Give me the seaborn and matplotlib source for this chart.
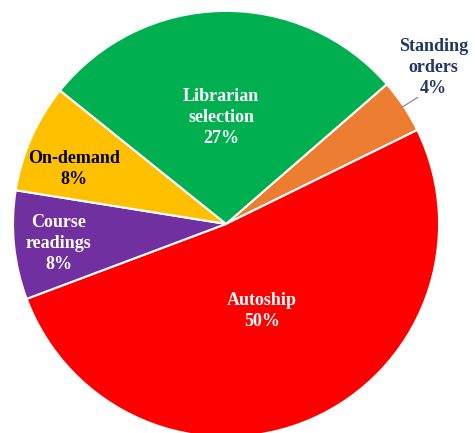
import numpy as np
import matplotlib
matplotlib.use("Agg")
import matplotlib.pyplot as plt
import seaborn as sns

# data (labels show these as percentages)
categories = ["Standing\norders", "Autoship", "Course\nreadings", "On-demand", "Librarian\nselection"]
values = [4, 50, 8, 8, 27]
colors = ["#ED7D31", "#FF0000", "#7030A0", "#FFC000", "#00B050"]
text_colors = ["#1F3864", "white", "white", "black", "white"]
label_r = [1.22, 0.44, 0.79, 0.76, 0.5]
label_dang = [3.5, -1, 1, 4, 1.5]

sns.set_style("white")
plt.rcParams["font.family"] = ["Liberation Serif", "DejaVu Serif"]

fig = plt.figure(figsize=(4.75, 4.33), dpi=100)
ax = fig.add_axes([0.0274, -0.0092, 0.897, 0.984])

wedges, _ = ax.pie(values, colors=colors, startangle=41, counterclock=False,
                   wedgeprops=dict(edgecolor="white", linewidth=1.5))

for w, cat, v, tc, r, da in zip(wedges, categories, values, text_colors, label_r, label_dang):
    mid = np.deg2rad((w.theta1 + w.theta2) / 2 + da)
    x, y = r * np.cos(mid), r * np.sin(mid)
    ax.text(x, y, f"{cat}\n{v}%", ha="center", va="center", color=tc,
            fontsize=13, fontweight="bold", linespacing=1.3)

# leader line for the small slice
mid = np.deg2rad((wedges[0].theta1 + wedges[0].theta2) / 2)
ax.plot([0.99 * np.cos(mid), 1.02 * np.cos(mid) + 0.05],
        [0.99 * np.sin(mid), 1.02 * np.sin(mid) + 0.03], color="gray", lw=0.8)

ax.set_xlim(-1, 1)
ax.set_ylim(-1, 1)
ax.set_aspect("equal")
ax.axis("off")

fig.savefig("out.png", dpi=100)
